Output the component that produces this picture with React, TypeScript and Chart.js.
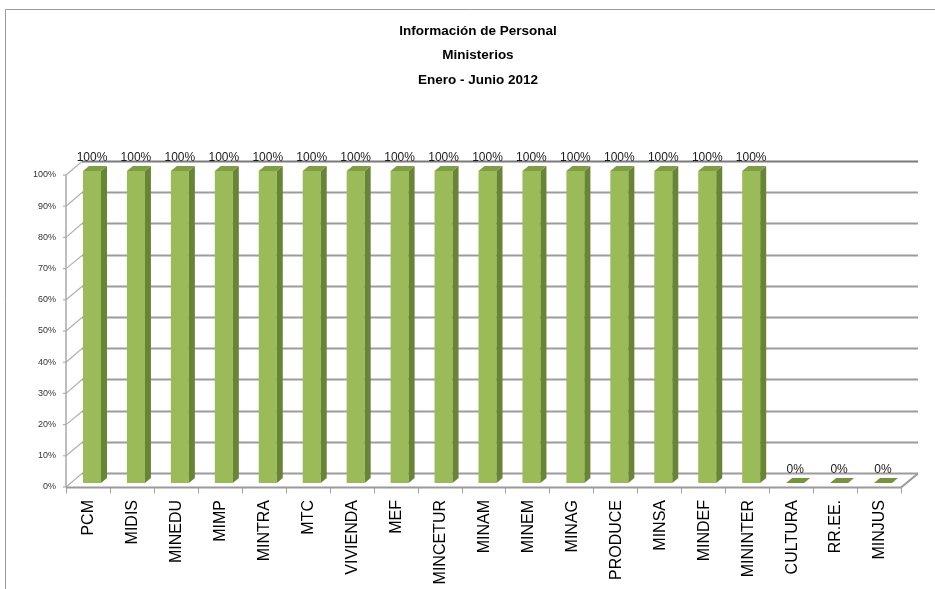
import React, { useEffect, useRef } from 'react';
import { Chart, registerables } from 'chart.js';

Chart.register(...registerables);

const titleLines = ['Información de Personal', 'Ministerios', 'Enero - Junio 2012'];
const categories = ['PCM', 'MIDIS', 'MINEDU', 'MIMP', 'MINTRA', 'MTC', 'VIVIENDA', 'MEF', 'MINCETUR', 'MINAM', 'MINEM', 'MINAG', 'PRODUCE', 'MINSA', 'MINDEF', 'MININTER', 'CULTURA', 'RR.EE.', 'MINJUS'];
const values = [1, 1, 1, 1, 1, 1, 1, 1, 1, 1, 1, 1, 1, 1, 1, 1, 0, 0, 0];
const yTickValues = [0, 0.1, 0.2, 0.3, 0.4, 0.5, 0.6, 0.7, 0.8, 0.9, 1];

const FRONT = '#9BBB59';
const SIDE = '#688536';
const TOP = '#7E9D45';
const FONT = "'Liberation Sans', Arial, sans-serif";

const pct = (v: number) => `${Math.round(v * 100)}%`;

const decor = {
  id: 'decor',
  beforeDraw(chart: any) {
    const ctx = chart.ctx;
    ctx.save();
    ctx.fillStyle = '#ffffff';
    ctx.fillRect(0, 0, chart.width, chart.height);
    // frame
    ctx.strokeStyle = '#9a9a9a';
    ctx.lineWidth = 1;
    ctx.beginPath();
    ctx.moveTo(5.5, chart.height);
    ctx.lineTo(5.5, 9.5);
    ctx.lineTo(chart.width, 9.5);
    ctx.stroke();
    // title
    ctx.fillStyle = '#000000';
    ctx.font = `bold 13.5px ${FONT}`;
    ctx.textAlign = 'center';
    ctx.textBaseline = 'middle';
    const cx = 478;
    titleLines.forEach((t, i) => ctx.fillText(t, cx, 31 + i * 24.5));
    ctx.restore();
  },
  beforeDatasetsDraw(chart: any) {
    const ctx = chart.ctx;
    const y = chart.scales.y;
    const area = chart.chartArea;
    const fl = area.left - 4;
    const fr = area.right - 4;
    const bl = fl + 16;
    const br = fr + 17;
    ctx.save();
    // back wall gridlines + left wall diagonals
    yTickValues.forEach((v) => {
      const p = y.getPixelForValue(v);
      const by = Math.round(p - 10) + 0.5;
      ctx.strokeStyle = v === 1 ? '#7a7a7a' : '#9c9c9c';
      ctx.lineWidth = 2;
      ctx.beginPath();
      ctx.moveTo(bl, by);
      ctx.lineTo(br, by);
      ctx.stroke();
      ctx.strokeStyle = '#b0b0b0';
      ctx.lineWidth = 1.2;
      ctx.beginPath();
      ctx.moveTo(fl, p + 4);
      ctx.lineTo(bl, by);
      ctx.stroke();
      ctx.beginPath();
      ctx.moveTo(fl - 3, p + 4);
      ctx.lineTo(fl, p + 4);
      ctx.stroke();
    });
    // front vertical axis
    ctx.strokeStyle = '#a8a8a8';
    ctx.lineWidth = 1.5;
    ctx.beginPath();
    ctx.moveTo(fl, y.getPixelForValue(1) + 4);
    ctx.lineTo(fl, y.getPixelForValue(0) + 4);
    ctx.stroke();
    // floor front edge
    const fy = Math.round(y.getPixelForValue(0) + 4) + 0.5;
    ctx.strokeStyle = '#9a9a9a';
    ctx.lineWidth = 2;
    ctx.beginPath();
    ctx.moveTo(fl, fy);
    ctx.lineTo(fr, fy);
    ctx.lineTo(br, Math.round(y.getPixelForValue(0) - 10) + 0.5);
    ctx.stroke();
    // category tick marks
    const n = categories.length;
    const cw = (area.right - area.left) / n;
    ctx.strokeStyle = '#a0a0a0';
    ctx.lineWidth = 1;
    for (let i = 0; i <= n; i++) {
      const tx = Math.round(fl + i * cw) + 0.5;
      ctx.beginPath();
      ctx.moveTo(tx, fy);
      ctx.lineTo(tx, fy + 6);
      ctx.stroke();
    }
    ctx.restore();
  },
  afterDatasetsDraw(chart: any) {
    const ctx = chart.ctx;
    const meta = chart.getDatasetMeta(0);
    const dx = 6;
    const dy = -5;
    ctx.save();
    meta.data.forEach((el: any, i: number) => {
      const { x, y, base, width } = el.getProps(['x', 'y', 'base', 'width'], true);
      const l = x - width / 2;
      const r = x + width / 2;
      // side face
      if (base - y > 0.5) {
        ctx.fillStyle = SIDE;
        ctx.beginPath();
        ctx.moveTo(r, y);
        ctx.lineTo(r + dx, y + dy);
        ctx.lineTo(r + dx, base + dy);
        ctx.lineTo(r, base);
        ctx.closePath();
        ctx.fill();
      }
      // top face
      ctx.fillStyle = base - y > 0.5 ? TOP : '#77933C';
      ctx.beginPath();
      ctx.moveTo(l, y);
      ctx.lineTo(l + dx, y + dy);
      ctx.lineTo(r + dx, y + dy);
      ctx.lineTo(r, y);
      ctx.closePath();
      ctx.fill();
      // data label
      ctx.fillStyle = '#1a1a1a';
      ctx.font = `12px ${FONT}`;
      ctx.textAlign = 'center';
      ctx.textBaseline = 'alphabetic';
      ctx.fillText(pct(values[i]), x, y - 10);
    });
    ctx.restore();
  },
};

export default function App() {
  const ref = useRef<HTMLCanvasElement | null>(null);
  useEffect(() => {
    if (!ref.current) return;
    const chart = new Chart(ref.current, {
      type: 'bar',
      data: {
        labels: categories,
        datasets: [
          {
            data: values,
            backgroundColor: FRONT,
            borderWidth: 0,
            barPercentage: 0.41,
            categoryPercentage: 1,
          },
        ],
      },
      options: {
        responsive: false,
        animation: false,
        devicePixelRatio: 1,
        layout: { padding: { top: 171, right: 30, left: 0, bottom: 0 } },
        plugins: {
          legend: { display: false },
          title: { display: false },
          tooltip: { enabled: false },
        },
        scales: {
          x: {
            grid: { display: false, drawTicks: false },
            border: { display: false },
            afterFit: (s: any) => {
              s.height = 106;
            },
            ticks: {
              autoSkip: false,
              minRotation: 90,
              maxRotation: 90,
              padding: 17,
              labelOffset: -3,
              color: '#000000',
              font: { family: FONT, size: 16 },
            },
          },
          y: {
            min: 0,
            max: 1,
            grid: { display: false, drawTicks: false },
            border: { display: false },
            afterFit: (s: any) => {
              s.width = 70;
            },
            ticks: {
              stepSize: 0.1,
              padding: 14,
              labelOffset: 4,
              color: '#333333',
              font: { family: FONT, size: 9 },
              callback: (v: any) => pct(Number(v)),
            },
          },
        },
      },
      plugins: [decor],
    });
    return () => chart.destroy();
  }, []);
  return (
    <div style={{ position: 'fixed', left: 0, top: 0, width: 935, height: 589, background: '#fff' }}>
      <canvas ref={ref} width={935} height={589} style={{ display: 'block' }} />
    </div>
  );
}
